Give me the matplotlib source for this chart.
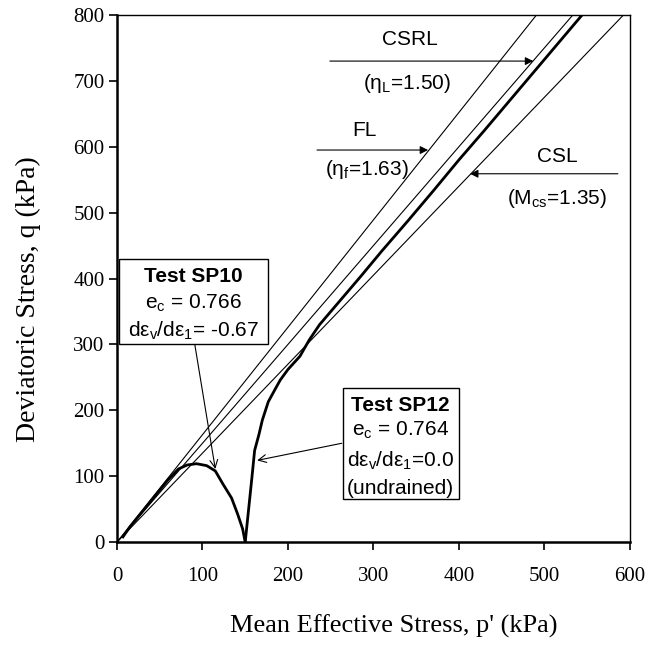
import matplotlib
matplotlib.use("Agg")
import matplotlib.pyplot as plt
from matplotlib.patches import Rectangle
import numpy as np

plt.rcParams['font.family'] = 'Liberation Serif'
plt.rcParams['mathtext.fontset'] = 'custom'
plt.rcParams['mathtext.rm'] = 'Liberation Sans'
plt.rcParams['mathtext.it'] = 'Liberation Sans:italic'
plt.rcParams['mathtext.default'] = 'rm'

# reference lines through the origin (q = slope * p)
line_names = ['FL', 'CSRL', 'CSL']
line_slopes = [1.63, 1.50, 1.35]

# Test SP10 (drained, d ev/d e1 = -0.67)
p_sp10 = [150, 147, 141, 134, 124, 115, 105, 93, 82, 72, 60, 45, 30, 15, 7]
q_sp10 = [0, 20, 43, 67, 88, 108, 116, 119, 117, 111, 95, 71, 47, 23, 8]

# Test SP12 (undrained)
p_sp12 = [150, 152, 154, 156, 158, 161, 166, 170, 177, 185, 191, 200, 214, 225,
          237, 260, 285, 310, 340, 370, 400, 430, 460, 490, 520, 552]
q_sp12 = [0, 25, 50, 75, 100, 139, 163, 185, 213, 232, 246, 262, 282, 307,
          330, 365, 403, 442, 487, 533, 580, 625, 671, 717, 763, 812]

sans = 'Liberation Sans'

fig = plt.figure(figsize=(6.5, 6.5), dpi=100)
ax = fig.add_axes([0.18, 0.166, 0.789, 0.811])

for s in line_slopes:
    ax.plot([0, 900 / s], [0, 900], color='black', lw=0.8)

ax.plot(p_sp10, q_sp10, color='black', lw=2.0)
ax.plot(p_sp12, q_sp12, color='black', lw=2.0)

ax.set_xlim(0, 600)
ax.set_ylim(0, 800)
ax.set_xticks(np.arange(0, 601, 100))
ax.set_yticks(np.arange(0, 801, 100))
ax.tick_params(direction='out', length=6, width=1.2, labelsize=15)
ax.tick_params(axis='x', pad=12)
ax.tick_params(axis='y', pad=3)
ax.spines['left'].set_linewidth(1.8)
ax.spines['bottom'].set_linewidth(1.8)
ax.spines['top'].set_linewidth(1.0)
ax.spines['right'].set_linewidth(1.0)
ax.set_xlabel("Mean Effective Stress, p' (kPa)", fontsize=19)
ax.set_ylabel("Deviatoric Stress, q (kPa)", fontsize=20)
ax.xaxis.set_label_coords(0.54, -0.138)
ax.yaxis.set_label_coords(-0.148, 0.46)

head = dict(arrowstyle='-|>', color='black', lw=0.8, shrinkA=0, shrinkB=0,
            mutation_scale=12)
arrow = dict(arrowstyle='->', color='black', lw=0.8, shrinkA=0, shrinkB=0,
             mutation_scale=14)

# CSRL
ax.text(343, 762, 'CSRL', family=sans, fontsize=15, ha='center', va='center')
ax.annotate('', xy=(487, 730), xytext=(249, 730), arrowprops=head)
ax.text(339, 696, r'($\eta_L$=1.50)', family=sans, fontsize=15, ha='center', va='center')

# FL
ax.text(290, 624, 'FL', family=sans, fontsize=15, ha='center', va='center')
ax.annotate('', xy=(364, 595), xytext=(234, 595), arrowprops=head)
ax.text(292, 566, r'($\eta_f$=1.63)', family=sans, fontsize=15, ha='center', va='center')

# CSL
ax.text(515, 585, 'CSL', family=sans, fontsize=15, ha='center', va='center')
ax.annotate('', xy=(413, 559), xytext=(586, 559), arrowprops=head)
ax.text(515, 521, r'(M$_{cs}$=1.35)', family=sans, fontsize=15, ha='center', va='center')

# Test SP10 box
ax.add_patch(Rectangle((2, 301), 175, 129, fill=True, facecolor='white',
                       edgecolor='black', lw=1.0, zorder=3))
ax.text(89, 403, 'Test SP10', family=sans, fontsize=15, weight='bold',
        ha='center', va='center', zorder=4)
ax.text(89, 363, r'e$_c$ = 0.766', family=sans, fontsize=15, ha='center', va='center', zorder=4)
ax.text(89, 321, r'd$\epsilon_v$/d$\epsilon_1$= -0.67', family=sans, fontsize=15,
        ha='center', va='center', zorder=4)
ax.annotate('', xy=(115, 111), xytext=(91, 300), arrowprops=arrow)

# Test SP12 box
ax.add_patch(Rectangle((264, 66), 136, 168, fill=True, facecolor='white',
                       edgecolor='black', lw=1.0, zorder=3))
ax.text(332, 208, 'Test SP12', family=sans, fontsize=15, weight='bold',
        ha='center', va='center', zorder=4)
ax.text(332, 169, r'e$_c$ = 0.764', family=sans, fontsize=15, ha='center', va='center', zorder=4)
ax.text(332, 124, r'd$\epsilon_v$/d$\epsilon_1$=0.0', family=sans, fontsize=15,
        ha='center', va='center', zorder=4)
ax.text(332, 82, '(undrained)', family=sans, fontsize=15, ha='center', va='center', zorder=4)
ax.annotate('', xy=(164, 124), xytext=(263, 150), arrowprops=arrow)

fig.savefig('out.png', dpi=100)
